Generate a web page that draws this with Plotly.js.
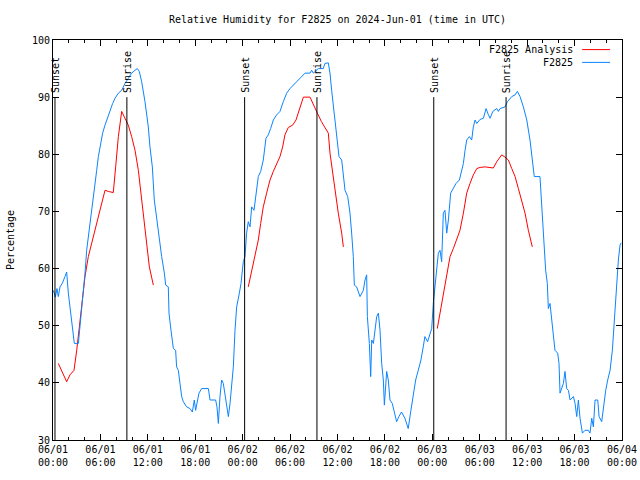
<!DOCTYPE html>
<html>
<head>
<meta charset="utf-8">
<script src="https://cdn.plot.ly/plotly-3.0.1.min.js"></script>
<style>html,body{margin:0;padding:0;background:#fff;}#chart{width:640px;height:480px;}</style>
</head>
<body>
<div id="chart"></div>
<script>
// Hours after 2024-06-01 00:00 UTC
const obsHours = [0.04,0.3,0.5,0.67,0.89,1.2,1.52,1.73,1.94,2.24,2.57,2.70,3.21,3.42,3.63,3.84,4.05,4.26,4.6,4.89,5.10,5.31,5.53,5.74,5.95,6.28,6.58,6.87,7.21,7.55,7.85,8.27,8.69,9.11,9.53,9.95,10.38,10.67,10.92,11.22,11.64,12.06,12.27,12.57,12.82,13.12,13.41,13.75,14.09,14.26,14.59,14.68,14.93,15.23,15.52,15.64,15.86,16.07,16.28,16.49,16.91,17.34,17.63,17.88,18.05,18.3,18.47,18.81,19.66,19.87,20.58,20.75,20.92,21.13,21.34,21.55,21.76,21.98,22.19,22.4,22.61,22.82,23.03,23.24,23.58,23.79,24.08,24.29,24.5,24.71,24.93,25.14,25.43,25.69,25.98,26.28,26.61,26.95,27.24,27.54,27.88,28.3,28.72,29.14,29.57,29.99,30.41,30.92,31.46,31.89,32.52,32.73,32.94,33.57,34.2,34.41,34.84,35.05,35.26,35.56,35.81,36.02,36.19,36.53,36.74,36.95,37.29,37.58,37.79,38.0,38.13,38.42,38.85,39.27,39.48,39.69,39.78,40.03,40.2,40.33,40.54,40.74,40.96,41.17,41.38,41.59,41.8,41.93,42.22,42.43,42.64,42.93,43.18,43.48,43.77,44.1,44.53,44.95,45.29,45.59,45.89,46.22,46.56,46.85,47.06,47.4,47.7,47.92,48.13,48.34,48.55,48.76,48.97,49.18,49.39,49.6,49.82,50.03,50.32,50.66,51.0,51.42,51.72,51.93,52.14,52.35,52.69,52.98,53.19,53.41,53.62,54.04,54.46,54.8,55.1,55.31,55.65,55.94,56.15,56.36,56.57,57.2,57.5,58.05,58.47,58.76,59.1,59.52,59.95,60.36,60.65,60.9,61.62,61.83,62.04,62.17,62.34,62.55,62.68,62.89,63.1,63.31,63.52,63.86,64.03,64.16,64.37,64.58,64.79,65.0,65.22,65.43,65.85,66.06,66.27,66.48,66.69,66.99,67.32,67.74,67.95,68.17,68.38,68.59,68.93,69.1,69.43,69.64,69.94,70.19,70.49,70.78,71.04,71.33,71.54,71.75,71.9];
const obsRH = [56.2,55.0,56.5,55.1,56.8,57.5,58.6,59.4,55.7,52.2,49.2,46.9,46.9,49.8,53.3,56.8,59.2,63.2,66.7,69.7,72,74.9,77.2,79.6,81.3,83.7,85.1,86.3,87.5,88.9,89.8,90.7,91.2,92.4,93.3,94.2,94.7,95.0,94.5,92.7,89.2,84.8,81.3,77.8,72,68.5,65,62.1,59.2,57.1,56.8,52.2,49.2,46,45.7,42.8,42.2,39.9,37.6,36.7,35.8,35.5,34.9,37,35.2,37,38.2,39.0,39.0,37,37,35.8,32.9,37.6,40.5,39.9,38.2,35.8,34.1,36.4,39.3,42.8,49.2,53.3,55.7,57.4,61.2,62.1,66.2,68.2,67.3,70.8,70.2,73.2,76.1,77,79,82.8,83.4,84.5,86,86.9,87.5,89.2,90.7,91.5,92.1,93,93.6,94.2,94.2,94.7,94.2,95.0,95.0,95.9,96,94.2,91.2,87.2,83.7,80.7,79.6,79,76.7,73.7,72.6,69.7,66.2,62.1,57.1,56.8,55.1,56.2,58,58.9,51.6,46.9,41.1,47.5,46.9,49.2,51.6,52.2,49.2,43.4,40.5,36.1,42,40.5,37,36.4,34.7,33.2,34.1,34.9,33.8,32.0,35.2,38.2,40.5,42.2,44,46.3,48.1,47.2,48.4,49.5,54.0,56.8,59.2,62.7,63.2,61.2,69.7,70.2,66.2,68.5,73.2,74,74.9,75.5,77,78.4,80.7,82.5,83.1,82.5,84.8,86,85.4,86.1,86.3,88,86.9,86.3,87.5,87.8,88,87.5,88,88.3,89.2,90.1,90.4,91,90.1,88.3,86,82.5,79,76.1,76.1,71.4,67.9,63.8,59.7,57.4,53,53.9,51,48.7,45.7,45.2,43.4,38.2,39.3,39.9,42,39,38.7,37,37.6,36.4,34.1,37,33.8,31.2,31.7,31.7,31.2,33.8,32.3,37,37,34.1,33.2,35.8,38.7,40.5,42.2,45.7,51.6,56.8,61.5,64.1,64.5];

// Analysis series (null = gap between runs)
const anaHours = [0.67,1.73,2.15,2.66,3.0,3.33,3.63,4.05,4.47,4.89,5.31,5.74,6.16,6.58,7.0,7.63,7.93,8.27,8.69,9.11,9.53,9.95,10.38,10.8,11.1,11.43,11.73,11.98,12.19,12.7,
  18.0,
  24.71,25.14,25.56,25.98,26.28,26.61,27.03,27.46,27.88,28.3,28.72,29.06,29.35,29.78,30.32,30.75,31.17,31.68,32.52,32.94,33.45,33.97,34.5,34.84,35.05,35.39,35.68,36.1,36.53,36.74,
  42.0,
  48.63,48.97,49.39,49.82,50.24,50.66,51.08,51.5,51.93,52.35,52.77,53.19,53.62,54.04,54.67,55.21,55.72,56.15,56.78,57.2,57.62,58.05,58.47,58.89,59.31,59.73,60.15,60.65];
const anaRH = [43.4,40.2,41.4,42.2,45.7,49.8,53.3,58.6,62.1,64.4,66.5,69.1,71.4,73.7,73.5,73.3,77.8,83.1,87.5,86.3,85.1,83.1,80.7,77.2,73.7,69.7,65.6,62.4,60.3,57.1,
  null,
  56.8,59.7,62.1,65,67.9,70.8,73.2,75.5,77,78.4,79.6,81.3,83.4,84.7,85.1,86,88,90,90,88.6,87.2,85.7,84.5,83.7,80.2,76.7,73.7,69.7,66.2,63.8,
  null,
  49.5,52.2,55.7,59.2,62.1,63.5,65.3,66.7,69.7,73.2,74.9,76.4,77.5,77.7,77.8,77.7,77.6,78.7,79.9,79.5,79,77.5,76.1,74,72,69.7,66.7,63.8];

// Sun events (hours after 2024-06-01 00:00 UTC)
const sunHours = [0.25, 9.35, 24.25, 33.4, 48.18, 57.33];
const sunLabels = ["Sunset","Sunrise","Sunset","Sunrise","Sunset","Sunrise"];
const sunLineTop = 90;

const title = "Relative Humidity for F2825 on 2024-Jun-01 (time in UTC)";
const yTitle = "Percentage";
const seriesNames = ["F2825 Analysis", "F2825"];
const seriesColors = ["#ff0000", "#0a84ff"];

function toDate(h){
  const d = new Date(Date.UTC(2024,5,1) + Math.round(h*3600000));
  const p = n => String(n).padStart(2,'0');
  return d.getUTCFullYear()+'-'+p(d.getUTCMonth()+1)+'-'+p(d.getUTCDate())+' '+p(d.getUTCHours())+':'+p(d.getUTCMinutes())+':'+p(d.getUTCSeconds());
}

const FONT = "DejaVu Sans Mono";
const traces = [
  {x: anaHours.map(toDate), y: anaRH, name: seriesNames[0], mode: 'lines', connectgaps: false,
   line: {color: seriesColors[0], width: 1}},
  {x: obsHours.map(toDate), y: obsRH, name: seriesNames[1], mode: 'lines',
   line: {color: seriesColors[1], width: 1}}
];

const shapes = sunHours.map(h => ({type: 'line', xref: 'x', yref: 'y', x0: toDate(h), x1: toDate(h), y0: 30, y1: sunLineTop,
  line: {color: '#000', width: 1}}));
const annotations = sunHours.map((h,i) => ({xref: 'x', yref: 'y', x: toDate(h), y: sunLineTop, text: sunLabels[i],
  textangle: -90, showarrow: false, xanchor: 'center', yanchor: 'bottom', yshift: 2, font: {family: FONT, size: 10, color: '#000'}}));

// gnuplot-style key: right-aligned text with the line sample to its right
const keyRowY = [0.976, 0.944];
seriesNames.forEach((name, i) => {
  annotations.push({xref: 'paper', yref: 'paper', x: 0.918, y: keyRowY[i], text: name, showarrow: false,
    xanchor: 'right', yanchor: 'middle', font: {family: FONT, size: 10, color: '#000'}});
  shapes.push({type: 'line', xref: 'paper', yref: 'paper', x0: 0.930, x1: 0.979, y0: keyRowY[i], y1: keyRowY[i],
    line: {color: seriesColors[i], width: 1}});
});

const layout = {
  width: 640, height: 480,
  margin: {l: 53, r: 18, t: 40, b: 40},
  paper_bgcolor: '#fff', plot_bgcolor: '#fff',
  font: {family: FONT, size: 10, color: '#000'},
  title: {text: title, x: 0.5, xref: 'paper', y: 1 - 19/480, yref: 'container', yanchor: 'middle', font: {family: FONT, size: 10, color: '#000'}},
  xaxis: {
    type: 'date', range: [toDate(0), toDate(72)],
    tickformat: '%m/%d<br>%H:%M', dtick: 6*3600000, tick0: toDate(0),
    ticks: 'inside', ticklen: 6, tickcolor: '#000', showline: true, linecolor: '#000', linewidth: 1, mirror: 'allticks',
    showgrid: false, zeroline: false,
    minor: {dtick: 2*3600000, ticks: 'inside', ticklen: 3, tickcolor: '#000', showgrid: false},
    tickfont: {family: FONT, size: 10, color: '#000'}
  },
  yaxis: {
    range: [30, 100], dtick: 10, tick0: 30,
    ticks: 'inside', ticklen: 6, tickcolor: '#000', showline: true, linecolor: '#000', linewidth: 1, mirror: 'allticks',
    showgrid: false, zeroline: false,
    tickfont: {family: FONT, size: 10, color: '#000'},
    title: {text: yTitle, font: {family: FONT, size: 10, color: '#000'}, standoff: 15}
  },
  shapes: shapes,
  annotations: annotations,
  showlegend: false
};

Plotly.newPlot('chart', traces, layout, {displayModeBar: false, staticPlot: true});
</script>
</body>
</html>
